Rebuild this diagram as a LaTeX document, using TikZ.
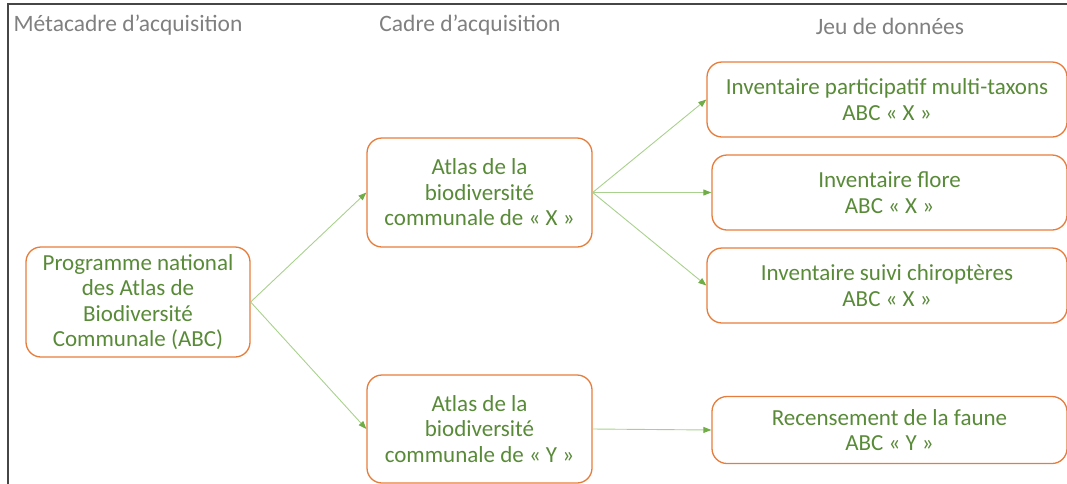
\documentclass[tikz,border=0pt]{standalone}
\usepackage{fontspec}
\setmainfont{Carlito}
\usetikzlibrary{arrows.meta}
\definecolor{boxorange}{RGB}{230,125,60}
\definecolor{txtgreen}{RGB}{88,138,56}
\definecolor{linegreen}{RGB}{169,209,142}
\definecolor{tipgreen}{RGB}{112,173,71}
\definecolor{hdrgray}{RGB}{128,128,128}
\definecolor{framegray}{RGB}{70,70,70}
\tikzset{
  box/.style={draw=boxorange, line width=1.3pt, rounded corners=15pt, align=center,
    text=txtgreen, font=\fontsize{23}{25.5}\selectfont, inner sep=0pt},
  hdr/.style={text=hdrgray, font=\fontsize{23.5}{26}\selectfont, inner sep=0pt},
  conn/.style={draw=linegreen, line width=0.9pt, -{Triangle[length=8pt,width=6pt,fill=tipgreen,color=tipgreen]}},
}
\begin{document}
\begin{tikzpicture}[x=1pt,y=-1pt]
\useasboundingbox (0,0) rectangle (1067,483);
\clip (0,0) rectangle (1067,483);
\draw[framegray, line width=2pt] (8,484) -- (8,4) -- (1068,4);
\node[hdr] (h1) at (128,25) {Métacadre d’acquisition};
\node[hdr] (h2) at (470,25) {Cadre d’acquisition};
\node[hdr] (h3) at (890,26) {Jeu de données};
\node[box, minimum width=224pt, minimum height=110pt] (A) at (138,302) {Programme national\\des Atlas de\\Biodiversité\\Communale (ABC)};
\node[box, minimum width=225pt, minimum height=109pt] (B) at (479.5,192.5) {Atlas de la\\biodiversité\\communale de « X »};
\node[box, minimum width=225pt, minimum height=108pt] (C) at (479.5,429) {Atlas de la\\biodiversité\\communale de « Y »};
\node[box, minimum width=360pt, minimum height=75pt] (D1) at (887,99.5) {Inventaire participatif multi-taxons\\ABC « X »};
\node[box, minimum width=355pt, minimum height=75pt] (D2) at (889.5,192.5) {Inventaire flore\\ABC « X »};
\node[box, minimum width=360pt, minimum height=75pt] (D3) at (887,285.5) {Inventaire suivi chiroptères\\ABC « X »};
\node[box, minimum width=355pt, minimum height=67pt] (D4) at (889.5,430) {Recensement de la faune\\ABC « Y »};
\draw[conn] (A.east) -- (B.west);
\draw[conn] (A.east) -- (C.west);
\draw[conn] (B.east) -- (D1.west);
\draw[conn] (B.east) -- (D2.west);
\draw[conn] (B.east) -- (D3.west);
\draw[conn] (C.east) -- (D4.west);
\end{tikzpicture}
\end{document}
